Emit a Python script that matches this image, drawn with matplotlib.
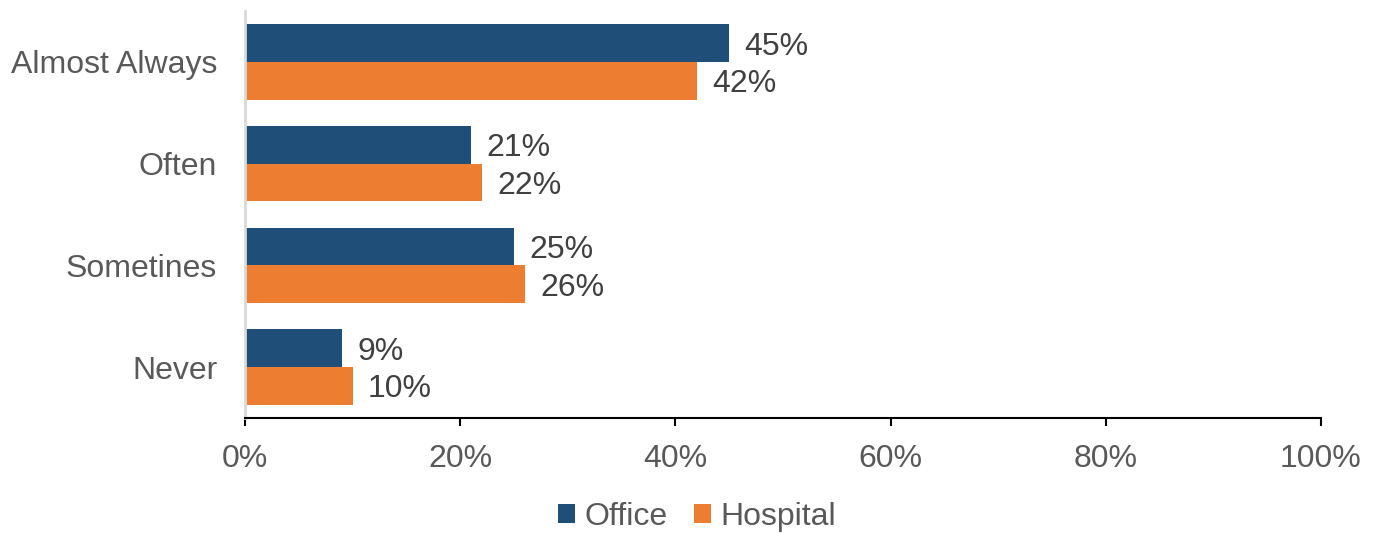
import matplotlib
matplotlib.use("Agg")
import matplotlib.pyplot as plt
import numpy as np

categories = ["Almost Always", "Often", "Sometines", "Never"]
office = [45, 21, 25, 9]
hospital = [42, 22, 26, 10]
xticks = [0, 20, 40, 60, 80, 100]
xtick_labels = ["0%", "20%", "40%", "60%", "80%", "100%"]

c_office = "#1f4e79"
c_hosp = "#ed7d31"
txt = "#595959"
lbl = "#404040"
fs = 23

plt.rcParams['font.family'] = ['Liberation Sans', 'DejaVu Sans']

fig = plt.figure(figsize=(13.77, 5.33), dpi=100)
ax = fig.add_axes([245/1377, 1-418/533, (1321-245)/1377, (418-11)/533])

y = np.arange(len(categories))
h = 0.37
b1 = ax.barh(y - h/2, office, height=h, color=c_office, label="Office")
b2 = ax.barh(y + h/2, hospital, height=h, color=c_hosp, label="Hospital")
for bars, vals in ((b1, office), (b2, hospital)):
    for rect, v in zip(bars, vals):
        ax.annotate(f"{v}%", (v, rect.get_y() + rect.get_height()/2),
                    xytext=(11, 0), textcoords="offset points",
                    va="center_baseline", ha="left", fontsize=fs, color=lbl)

ax.set_ylim(len(categories) - 0.5, -0.5)
ax.set_xlim(0, 100)
ax.set_yticks(y)
ax.set_yticklabels(categories, fontsize=fs, color=txt)
ax.set_xticks(xticks)
ax.set_xticklabels(xtick_labels, fontsize=fs, color=txt)
ax.tick_params(axis='y', length=0, pad=20)
ax.tick_params(axis='x', length=6, width=1.5, direction='out', pad=13)
for s in ("top", "right"):
    ax.spines[s].set_visible(False)
ax.spines["left"].set_color("#d9d9d9")
ax.spines["left"].set_linewidth(2)
ax.spines["bottom"].set_color("black")
ax.spines["bottom"].set_linewidth(1.5)

leg = fig.legend(handles=[b1, b2], labels=["Office", "Hospital"], loc="center",
                 bbox_to_anchor=(697/1377, 1-517/533), ncol=2, frameon=False,
                 fontsize=fs, handlelength=0.55, handleheight=0.55,
                 handletextpad=0.3, columnspacing=0.8)
for t in leg.get_texts():
    t.set_color(txt)

fig.savefig("out.png", dpi=100)
